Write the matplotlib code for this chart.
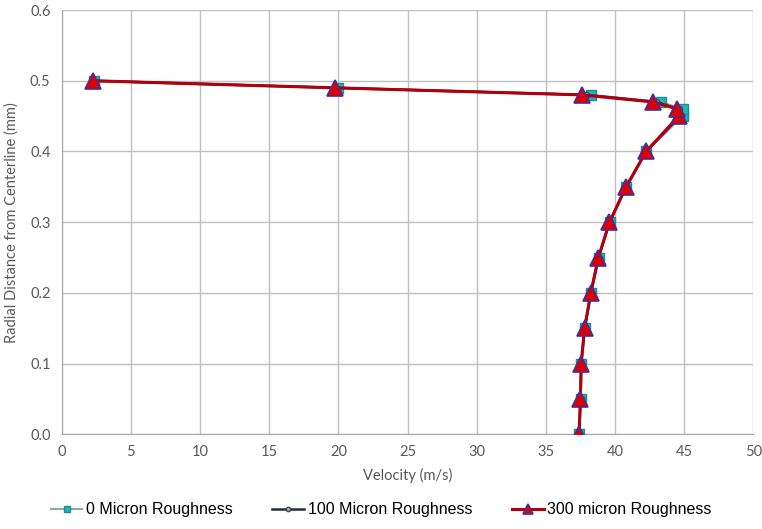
import matplotlib.pyplot as plt
from matplotlib.ticker import FormatStrFormatter

# radial positions (mm) and velocity profiles (m/s)
radial = [0.00, 0.05, 0.10, 0.15, 0.20, 0.25, 0.30, 0.35, 0.40, 0.45, 0.46, 0.47, 0.48, 0.49, 0.50]
vel_0 = [37.42, 37.52, 37.57, 37.82, 38.27, 38.82, 39.62, 40.82, 42.27, 44.9, 44.9, 43.3, 38.3, 20.0, 2.3]
vel_100 = [37.41, 37.51, 37.56, 37.81, 38.26, 38.81, 39.61, 40.81, 42.26, 44.7, 44.6, 43.0, 37.9, 19.85, 2.27]
vel_300 = [37.4, 37.5, 37.55, 37.8, 38.25, 38.8, 39.6, 40.8, 42.25, 44.6, 44.5, 42.75, 37.6, 19.75, 2.25]

labels = ['0 Micron Roughness', '100 Micron Roughness', '300 micron Roughness']

plt.rcParams['font.family'] = ['Lato', 'DejaVu Sans']

fig = plt.figure(figsize=(7.62, 5.29), dpi=100)
ax = fig.add_axes([0.081, 0.179, 0.9076, 0.802])

ax.plot(vel_0, radial, color='#8fa9a6', lw=1.5, marker='s', ms=7,
        mfc='#1fb5bd', mec='#1a8f8a', mew=1, label=labels[0], zorder=3)
ax.plot(vel_100, radial, color='#2b2b3a', lw=1.8, marker='o', ms=4.5,
        mfc='#a9b3b0', mec='#3a4a4a', mew=1, label=labels[1], zorder=4)
ax.plot(vel_300, radial, color='#b00010', lw=2.2, marker='^', ms=11,
        mfc='#dc0000', mec='#4b2a9a', mew=1.2, label=labels[2], zorder=5)

ax.set_xlim(0, 50)
ax.set_ylim(0, 0.6)
ax.set_xticks(range(0, 51, 5))
ax.set_yticks([i / 10 for i in range(7)])
ax.yaxis.set_major_formatter(FormatStrFormatter('%.1f'))
ax.grid(True, color='#c0c0c0', lw=1)
ax.set_axisbelow(True)
ax.tick_params(length=0, labelsize=10.5, labelcolor='#595959', pad=8)

for side in ['top', 'right']:
    ax.spines[side].set_visible(False)
for side in ['left', 'bottom']:
    ax.spines[side].set_color('#a6a6a6')

ax.set_xlabel('Velocity (m/s)', fontsize=10.5, color='#595959', labelpad=6)
ax.set_ylabel('Radial Distance from Centerline (mm)', fontsize=10.5, color='#595959', labelpad=8)

fig.legend(loc='lower center', bbox_to_anchor=(0.5, -0.005), ncol=3, frameon=False,
           prop={'family': ['Liberation Sans Narrow', 'Liberation Sans'], 'size': 11.5},
           markerscale=0.7, handlelength=2.0, handletextpad=0.2, columnspacing=2.5)

fig.savefig('out.png', dpi=100)
